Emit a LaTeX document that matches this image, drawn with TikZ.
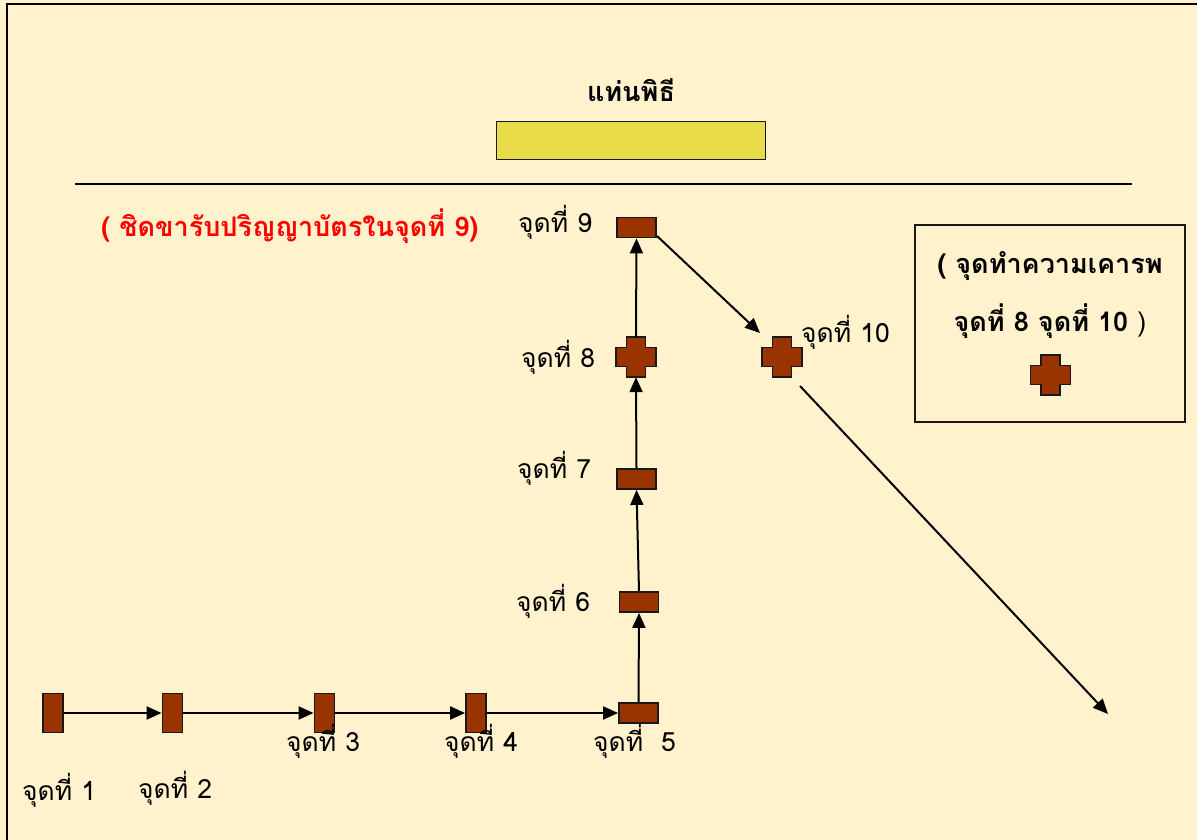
\documentclass[tikz,border=0pt]{standalone}
\usepackage{fontspec}
\newfontfamily\thaifont[Script=Thai]{Loma}
\usetikzlibrary{arrows.meta}
\definecolor{bgcream}{HTML}{FFF2CC}
\definecolor{markbrown}{HTML}{993300}
\definecolor{baryellow}{HTML}{E9DC4A}
\tikzset{
  mark box/.style={draw=black!90, fill=markbrown, line width=1.8pt, inner sep=0pt},
  vbox/.style={mark box, minimum width=20pt, minimum height=39pt},
  hbox/.style={mark box, minimum width=39pt, minimum height=20pt},
  crossnode/.style={inner sep=0pt, minimum size=40pt},
  crossline/.style={draw=black!90, fill=markbrown, line width=1.8pt, line join=miter},
  flow/.style={line width=2pt, -{Triangle[length=15pt,width=13pt]}},
  lbl/.style={font=\thaifont\fontsize{26.5}{30}\selectfont, anchor=base west, inner sep=0pt},
  boldtxt/.style={font=\thaifont\bfseries\fontsize{27}{31}\selectfont, inner sep=0pt},
}
\newcommand\drawcrossat[1]{%
  \begin{scope}[shift={(#1.center)}]
    \path[crossline] (-9.5,-20) -- (9.5,-20) -- (9.5,-9.5) -- (20,-9.5) -- (20,9.5)
      -- (9.5,9.5) -- (9.5,20) -- (-9.5,20) -- (-9.5,9.5) -- (-20,9.5) -- (-20,-9.5)
      -- (-9.5,-9.5) -- cycle;
  \end{scope}}
\begin{document}
\begin{tikzpicture}[x=1pt,y=-1pt]
\useasboundingbox (0,0) rectangle (1197,840);
\fill[bgcream] (0,0) rectangle (1197,840);
% frame (left and top edges visible)
\draw[line width=2pt] (7,840) -- (7,4.5) -- (1197,4.5);

% stage
\node[boldtxt, anchor=base] (title) at (631,102) {แท่นพิธี};
\node[draw=black!90, fill=baryellow, line width=1.8pt, minimum width=269pt, minimum height=38pt, inner sep=0pt] (stage) at (631,140.5) {};
\coordinate (hl) at (75,184);
\coordinate (hr) at (1132,184);
\draw[line width=1.5pt] (hl) -- (hr);

% red note
\node[boldtxt, text=red, anchor=base west] (note) at (101,236) {( ชิดขารับปริญญาบัตรในจุดที่ 9)};

% legend
\node[draw=black!90, line width=1.8pt, minimum width=270pt, minimum height=197pt, inner sep=0pt] (legend) at (1050,323.5) {};
\node[boldtxt, anchor=base] (leg1) at (1050,273) {( จุดทำความเคารพ};
\node[boldtxt, anchor=base] (leg2) at (1050,331) {จุดที่ 8 จุดที่ 10 {\mdseries)}};
\node[crossnode] (legcross) at (1050.5,375) {};
\drawcrossat{legcross}

% markers
\node[vbox] (p1) at (53,713) {};
\node[vbox] (p2) at (172.5,713) {};
\node[vbox] (p3) at (324.5,713) {};
\node[vbox] (p4) at (476,713) {};
\node[hbox] (p5) at (638.5,713) {};
\node[hbox] (p6) at (639,602) {};
\node[hbox] (p7) at (636.5,479) {};
\node[crossnode] (p8) at (636,357) {};
\drawcrossat{p8}
\node[hbox] (p9) at (636.5,227.5) {};
\node[crossnode] (p10) at (782,357) {};
\drawcrossat{p10}
\coordinate (p9out) at (657,236);
\coordinate (p10in) at (760,333);
\coordinate (p10out) at (800,386);
\coordinate (endpt) at (1108,714);

% connectors
\draw[flow] (p1.east) -- (p2.west);
\draw[flow] (p2.east) -- (p3.west);
\draw[flow] (p3.east) -- (p4.west);
\draw[flow] (p4.east) -- (p5.west);
\draw[flow] (p5.north) -- (p6.south);
\draw[flow] (p6.north) -- (p7.south);
\draw[flow] (p7.north) -- (p8.south);
\draw[flow] (p8.north) -- (p9.south);
\draw[flow] (p9out) -- (p10in);
\draw[flow] (p10out) -- (endpt);

% labels
\node[lbl] (l1) at (22,800) {จุดที่ 1};
\node[lbl] (l2) at (138,798) {จุดที่ 2};
\node[lbl] (l3) at (286,751) {จุดที่ 3};
\node[lbl] (l4) at (444,751) {จุดที่ 4};
\node[lbl] (l5) at (593,751) {จุดที่~~5};
\node[lbl] (l6) at (516,611) {จุดที่ 6};
\node[lbl] (l7) at (517,478) {จุดที่ 7};
\node[lbl] (l8) at (521,367) {จุดที่ 8};
\node[lbl] (l9) at (518,232) {จุดที่ 9};
\node[lbl] (l10) at (801,342) {จุดที่ 10};
\end{tikzpicture}
\end{document}
